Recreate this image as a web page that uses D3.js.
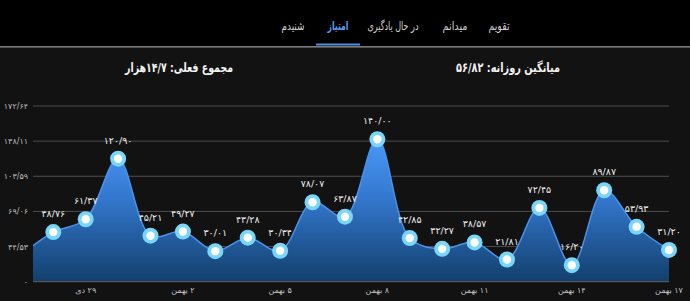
<!DOCTYPE html>
<html>
<head>
<meta charset="utf-8">
<script src="https://cdn.jsdelivr.net/npm/d3@7"></script>
<style>
  html, body { margin: 0; padding: 0; background: #121212; }
  svg { display: block; font-family: "DejaVu Sans", sans-serif; }
</style>
</head>
<body>
<svg id="chart" width="690" height="301"></svg>
<script>
// tabs (right to left as shown)
const TABS       = ["تقویم", "میدانم", "در حال یادگیری", "امتیاز", "شنیدم"];
const ACTIVE_TAB = "امتیاز";

const TITLE_TOTAL = "مجموع فعلی: ۱۴/۷هزار";
const TITLE_AVG   = "میانگین روزانه: ۵۶/۸۲";

// days — first one sits just off the left edge (clipped)
const DAYS = ["۲۷ دی", "۲۸ دی", "۲۹ دی", "۳۰ دی",
  "۱ بهمن", "۲ بهمن", "۳ بهمن", "۴ بهمن", "۵ بهمن", "۶ بهمن", "۷ بهمن",
  "۸ بهمن", "۹ بهمن", "۱۰ بهمن", "۱۱ بهمن", "۱۲ بهمن", "۱۳ بهمن",
  "۱۴ بهمن", "۱۵ بهمن", "۱۶ بهمن", "۱۷ بهمن"];
const SCORES = [26.4, 48.76, 61.37, 120.90, 45.21, 49.27, 30.01, 43.28, 30.34,
  78.07, 63.87, 140.00, 42.85, 32.27, 38.57, 21.81, 72.45, 16.20, 89.87, 53.93, 31.20];
const X_TICKS = ["۲۹ دی", "۲ بهمن", "۵ بهمن", "۸ بهمن", "۱۱ بهمن", "۱۴ بهمن", "۱۷ بهمن"];
const Y_TICKS = [0, 34.53, 69.06, 103.59, 138.11, 172.64];

const FA = "۰۱۲۳۴۵۶۷۸۹";
const toFa = s => String(s).replace(/\d/g, d => FA[+d]);
const fmtNum = v => v === 0 ? "۰" : toFa(v.toFixed(2).replace(".", "/"));

const svg = d3.select("#chart");

// header bar
svg.append("rect").attr("x", 0).attr("y", 0).attr("width", 690).attr("height", 46)
  .attr("fill", "#000");
svg.append("rect").attr("x", 0).attr("y", 46).attr("width", 690).attr("height", 1.6)
  .attr("fill", "#7a7a7a");

// DejaVu's Arabic runs wide, so squeeze to the widths seen in the app
const TAB_X = [499, 455, 393, 338, 293];
const TAB_W = [21, 25, 51, 21, 23];
TABS.forEach((t, i) => {
  const active = t === ACTIVE_TAB;
  svg.append("text")
    .attr("x", TAB_X[i] - TAB_W[i] / 2).attr("y", 30)
    .attr("direction", "ltr")
    .attr("font-size", 12)
    .attr("font-weight", active ? "bold" : "normal")
    .attr("fill", active ? "#5a9cf0" : "#cfcfcf")
    .attr("textLength", TAB_W[i])
    .attr("lengthAdjust", "spacingAndGlyphs")
    .text(t);
  if (active) {
    svg.append("rect").attr("x", TAB_X[i] - 22).attr("y", 43.5)
      .attr("width", 44).attr("height", 2).attr("fill", "#4a8fe0");
  }
});

// titles
[[TITLE_TOTAL, 179, 108], [TITLE_AVG, 508, 104]].forEach(([t, x, w]) => {
  svg.append("text")
    .attr("x", x - w / 2).attr("y", 72)
    .attr("font-size", 13)
    .attr("font-weight", "bold")
    .attr("fill", "#f2f2f2")
    .attr("textLength", w)
    .attr("lengthAdjust", "spacingAndGlyphs")
    .text(t);
});

// plot box
const pLeft = 33, pRight = 669, pTop = 106, pBottom = 281.7;

const x = d3.scaleLinear().domain([0, DAYS.length - 1]).range([20.9, pRight]);
const y = d3.scaleLinear().domain([0, 172.64]).range([pBottom, pTop]);

const defs = svg.append("defs");
defs.append("clipPath").attr("id", "plot-clip")
  .append("rect").attr("x", pLeft).attr("y", 0).attr("width", 690 - pLeft).attr("height", 301);

const grad = defs.append("linearGradient").attr("id", "area-grad")
  .attr("gradientUnits", "userSpaceOnUse")
  .attr("x1", 0).attr("x2", 0).attr("y1", pTop + 20).attr("y2", pBottom);
grad.append("stop").attr("offset", "0%").attr("stop-color", "#4f9fff");
grad.append("stop").attr("offset", "45%").attr("stop-color", "#3479d0");
grad.append("stop").attr("offset", "100%").attr("stop-color", "#123f6c");

// grid
const g = svg.append("g");
g.selectAll(".grid")
  .data(Y_TICKS.slice(1))
  .join("line")
  .attr("x1", pLeft).attr("x2", pRight)
  .attr("y1", d => y(d)).attr("y2", d => y(d))
  .attr("stroke", "#4d4d4d").attr("stroke-width", 1);

g.selectAll(".ylab")
  .data(Y_TICKS)
  .join("text")
  .attr("x", 28).attr("y", d => y(d) + 3)
  .attr("text-anchor", "end")
  .attr("font-size", 8)
  .attr("fill", "#bdbdbd")
  .text(fmtNum);

const plot = svg.append("g").attr("clip-path", "url(#plot-clip)");

const curve = d3.curveCatmullRom.alpha(0.5);
const area = d3.area()
  .x((_, i) => x(i)).y0(pBottom).y1(d => y(d))
  .curve(curve);
const line = d3.line()
  .x((_, i) => x(i)).y(d => y(d))
  .curve(curve);

plot.append("path").datum(SCORES)
  .attr("d", area).attr("fill", "url(#area-grad)");
plot.append("path").datum(SCORES)
  .attr("d", line).attr("fill", "none")
  .attr("stroke", "#4a93ec").attr("stroke-width", 1.5);

// baseline
svg.append("line")
  .attr("x1", pLeft).attr("x2", pRight).attr("y1", pBottom).attr("y2", pBottom)
  .attr("stroke", "#555").attr("stroke-width", 1.2);

// points + value labels (only those inside the plot)
const pts = SCORES.map((v, i) => ({ v, i })).filter(d => x(d.i) >= pLeft);

svg.selectAll(".dot-o").data(pts).join("circle")
  .attr("cx", d => x(d.i)).attr("cy", d => y(d.v)).attr("r", 8)
  .attr("fill", "#7ad6f8");
svg.selectAll(".dot-i").data(pts).join("circle")
  .attr("cx", d => x(d.i)).attr("cy", d => y(d.v)).attr("r", 4.2)
  .attr("fill", "#ffffff");

svg.selectAll(".vlab").data(pts).join("text")
  .attr("x", d => x(d.i)).attr("y", d => y(d.v) - 15)
  .attr("text-anchor", "middle")
  .attr("font-size", 9.5)
  .attr("fill", "#ececec")
  .text(d => fmtNum(d.v));

// x axis labels
svg.selectAll(".xlab").data(X_TICKS).join("text")
  .attr("x", d => x(DAYS.indexOf(d))).attr("y", 293)
  .attr("text-anchor", "middle")
  .attr("direction", "rtl")
  .attr("font-size", 8)
  .attr("fill", "#c4c4c4")
  .text(d => d);
</script>
</body>
</html>
